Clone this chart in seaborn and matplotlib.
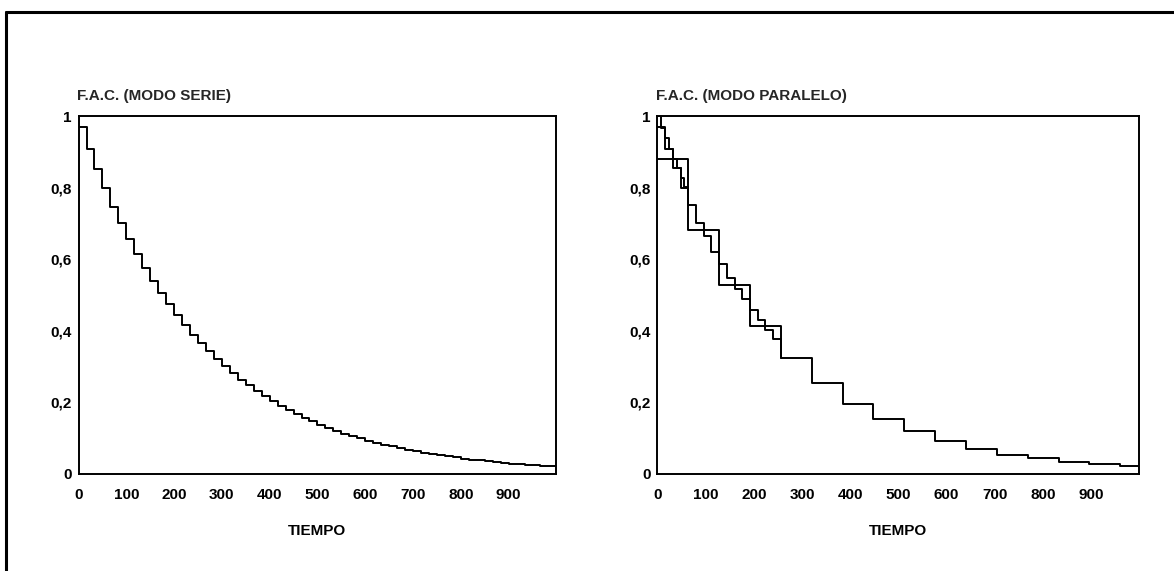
import numpy as np
import pandas as pd
import matplotlib
matplotlib.use("Agg")
import matplotlib.pyplot as plt
from matplotlib.lines import Line2D
import seaborn as sns

# ---- data -------------------------------------------------------------
# F.A.C. in series mode: one level per time step of 1000/60 units
fac_serie = [0.971, 0.910, 0.853, 0.799, 0.748, 0.701, 0.657, 0.616, 0.577, 0.541,
             0.507, 0.475, 0.445, 0.417, 0.390, 0.366, 0.343, 0.321, 0.301, 0.282,
             0.264, 0.248, 0.232, 0.217, 0.204, 0.191, 0.179, 0.168, 0.157, 0.147,
             0.138, 0.129, 0.121, 0.113, 0.106, 0.100, 0.093, 0.087, 0.082, 0.077,
             0.072, 0.067, 0.063, 0.059, 0.055, 0.052, 0.049, 0.046, 0.043, 0.040,
             0.038, 0.035, 0.033, 0.031, 0.029, 0.027, 0.025, 0.024, 0.022, 0.021]
paso_serie = 1000 / 60

# F.A.C. in parallel mode, coarse steps of 64 time units
fac_paralelo_grueso = [0.880, 0.683, 0.528, 0.415, 0.323, 0.253, 0.196, 0.154,
                       0.119, 0.092, 0.069, 0.053, 0.044, 0.034, 0.027, 0.022]
paso_grueso = 64

# F.A.C. in parallel mode, fine steps of 16 time units (up to t = 256)
fac_paralelo_fino = [0.970, 0.910, 0.855, 0.800, 0.752, 0.703, 0.667, 0.620,
                     0.586, 0.549, 0.516, 0.488, 0.458, 0.430, 0.404, 0.378, 0.323]
paso_fino = 16

# F.A.C. in parallel mode, initial stretch with steps of 8 time units
fac_paralelo_inicio = [1.000, 0.969, 0.939, 0.910, 0.882, 0.855, 0.828, 0.803, 0.790]
paso_inicio = 8

t_max = 1000
xticks = list(range(0, 1000, 100))
yticks = [0, 0.2, 0.4, 0.6, 0.8, 1.0]
ytick_labels = ["0", "0,2", "0,4", "0,6", "0,8", "1"]
titulos = ["F.A.C. (MODO SERIE)", "F.A.C. (MODO PARALELO)"]
xlabel = "TIEMPO"


def escalera(valores, paso, cerrar_en=None):
    """Build a step-curve frame; the last level is held until `cerrar_en`."""
    t = [i * paso for i in range(len(valores))]
    v = list(valores)
    if cerrar_en is not None:
        t.append(cerrar_en)
        v.append(valores[-1])
    return pd.DataFrame({"t": t, "fac": v})


# ---- style ------------------------------------------------------------
sns.set_theme(style="white")
plt.rcParams["font.family"] = ["Liberation Sans Narrow", "Liberation Sans", "DejaVu Sans"]
plt.rcParams["font.weight"] = "bold"

fig = plt.figure(figsize=(11.74, 5.71), dpi=100)
ax_l = fig.add_axes([0.0669, 0.170, 0.407, 0.626])
ax_r = fig.add_axes([0.5600, 0.170, 0.4106, 0.626])

linea = dict(color="black", linewidth=1.4, drawstyle="steps-post",
             estimator=None, legend=False)

sns.lineplot(data=escalera(fac_serie, paso_serie, t_max), x="t", y="fac", ax=ax_l, **linea)

sns.lineplot(data=escalera(fac_paralelo_grueso, paso_grueso, t_max), x="t", y="fac", ax=ax_r, **linea)
sns.lineplot(data=escalera(fac_paralelo_fino, paso_fino), x="t", y="fac", ax=ax_r, **linea)
sns.lineplot(data=escalera(fac_paralelo_inicio, paso_inicio), x="t", y="fac", ax=ax_r, **linea)

for ax, titulo in zip([ax_l, ax_r], titulos):
    ax.set_xlim(0, t_max)
    ax.set_ylim(0, 1)
    ax.set_xticks(xticks)
    ax.set_xticklabels([str(x) for x in xticks], fontsize=11, fontweight="bold")
    ax.set_yticks(yticks)
    ax.set_yticklabels(ytick_labels, fontsize=11, fontweight="bold")
    ax.tick_params(axis="both", length=0, colors="black")
    ax.tick_params(axis="x", pad=10)
    ax.tick_params(axis="y", pad=5)
    ax.set_xlabel(xlabel, fontsize=11, fontweight="bold", labelpad=16, color="black")
    ax.set_ylabel("")
    ax.set_title(titulo, loc="left", fontsize=11, fontweight="bold", pad=12, x=-0.003)
    for s in ax.spines.values():
        s.set_visible(True)
        s.set_color("black")
        s.set_linewidth(1.4)
    ax.grid(False)

# outer frame of the figure (left and top edges)
fig.add_artist(Line2D([6 / 1174, 6 / 1174], [0, 1 - 12 / 571], transform=fig.transFigure,
                      color="black", linewidth=2.2))
fig.add_artist(Line2D([6 / 1174, 1], [1 - 12 / 571, 1 - 12 / 571], transform=fig.transFigure,
                      color="black", linewidth=2.2))

fig.savefig("out.png", dpi=100, facecolor="white")
